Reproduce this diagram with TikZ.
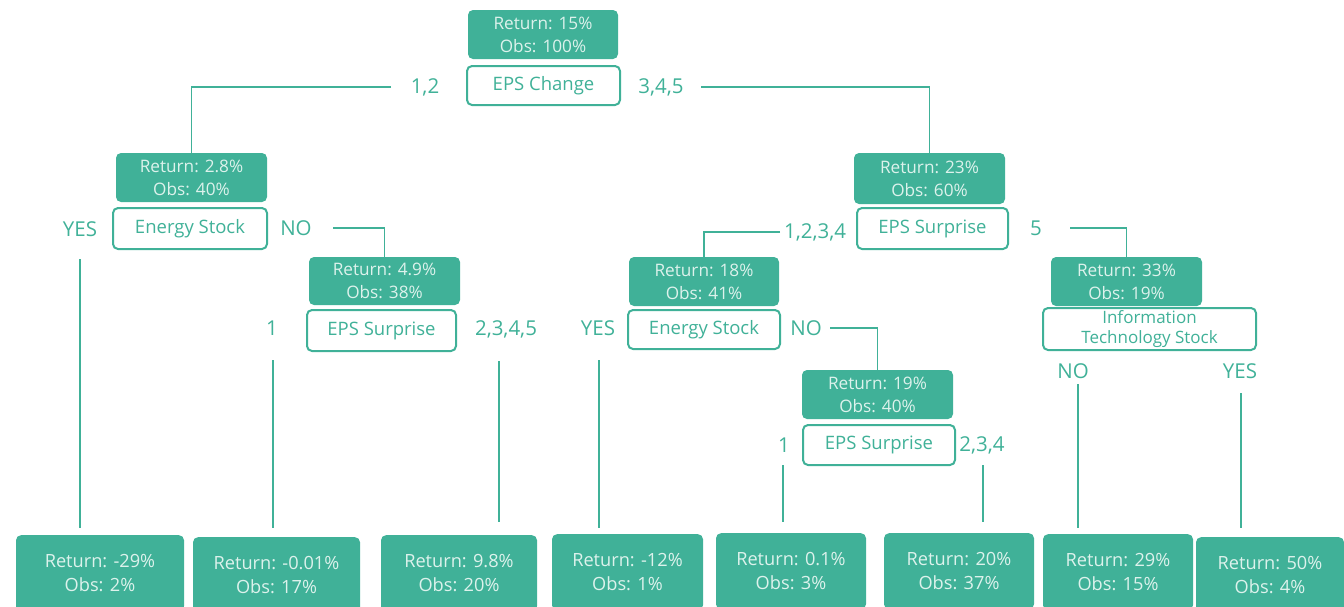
\documentclass[tikz,border=0pt]{standalone}
\usepackage{fontspec}
\setmainfont{Open Sans}
\usetikzlibrary{positioning}
\definecolor{teal}{HTML}{40B198}
\definecolor{pale}{HTML}{DDF2EC}
\tikzset{
    stat/.style={fill=teal,rounded corners=5pt,text=pale,align=center,
        font=\fontsize{17.2}{23}\selectfont,inner sep=0pt},
    test/.style={draw=teal,line width=2pt,fill=white,rounded corners=5pt,
        text=teal,align=center,font=\fontsize{18.5}{20}\selectfont,inner sep=0pt},
    leaf/.style={stat,anchor=north,minimum height=76pt,
        font=\fontsize{18.2}{24}\selectfont},
    lbl/.style={text=teal,font=\fontsize{20.5}{20}\selectfont,inner sep=0pt},
    link/.style={draw=teal,line width=1.3pt}
}
\begin{document}
\begin{tikzpicture}[x=1pt,y=-1pt]
    \clip (0,0) rectangle (1344,606);
    \useasboundingbox (0,0) rectangle (1344,606);

    % root
    \node[stat,minimum width=150pt,minimum height=49pt] (s0) at (543,34.5)
        {Return: 15\%\\Obs: 100\%};
    \node[test,minimum width=153pt,minimum height=39pt] (t0) at (543.5,85.5)
        {EPS Change};
    \node[lbl] (l12) at (425,87) {1,2};
    \node[lbl] (l345) at (661,87) {3,4,5};

    % left branch
    \node[stat,minimum width=151pt,minimum height=49pt] (s1) at (191.5,177.5)
        {Return: 2.8\%\\Obs: 40\%};
    \node[test,minimum width=154pt,minimum height=41pt] (t1) at (190,228.5)
        {Energy Stock};
    \node[lbl] (yes1) at (80,229) {YES};
    \node[lbl] (no1) at (296,228) {NO};

    \node[stat,minimum width=151pt,minimum height=48pt] (s3) at (384.5,281)
        {Return: 4.9\%\\Obs: 38\%};
    \node[test,minimum width=149pt,minimum height=41pt] (t3) at (381.5,330.5)
        {EPS Surprise};
    \node[lbl] (one3) at (272,328) {1};
    \node[lbl] (rest3) at (506,329) {2,3,4,5};

    % right branch
    \node[stat,minimum width=151pt,minimum height=51pt] (s2) at (929.5,178.5)
        {Return: 23\%\\Obs: 60\%};
    \node[test,minimum width=151pt,minimum height=41pt] (t2) at (932.5,228.5)
        {EPS Surprise};
    \node[lbl] (l1234) at (815,232) {1,2,3,4};
    \node[lbl] (five) at (1036,228) {5};

    \node[stat,minimum width=150pt,minimum height=49pt] (s4) at (704,281.5)
        {Return: 18\%\\Obs: 41\%};
    \node[test,minimum width=152pt,minimum height=39pt] (t4) at (704,329.5)
        {Energy Stock};
    \node[lbl] (yes4) at (598,328) {YES};
    \node[lbl] (no4) at (806,328) {NO};

    \node[stat,minimum width=151pt,minimum height=49pt] (s6) at (877.5,394.5)
        {Return: 19\%\\Obs: 40\%};
    \node[test,minimum width=152pt,minimum height=40pt] (t6) at (879,445)
        {EPS Surprise};
    \node[lbl] (one6) at (784,445) {1};
    \node[lbl] (rest6) at (982,445) {2,3,4};

    \node[stat,minimum width=151pt,minimum height=49pt] (s5) at (1126.5,281.5)
        {Return: 33\%\\Obs: 19\%};
    \node[test,minimum width=213pt,minimum height=42pt,
        font=\fontsize{17}{19.5}\selectfont] (t5) at (1149.5,329)
        {Information\\Technology Stock};
    \node[lbl] (no5) at (1073,371) {NO};
    \node[lbl] (yes5) at (1240,371) {YES};

    % leaves
    \node[leaf,minimum width=168pt] (r1) at (100,535)
        {Return: -29\%\\Obs: 2\%};
    \node[leaf,minimum width=167pt] (r2) at (276.5,537)
        {Return: -0.01\%\\Obs: 17\%};
    \node[leaf,minimum width=156pt] (r3) at (459,535)
        {Return: 9.8\%\\Obs: 20\%};
    \node[leaf,minimum width=151pt] (r4) at (627.5,534)
        {Return: -12\%\\Obs: 1\%};
    \node[leaf,minimum width=150pt] (r5) at (791,533)
        {Return: 0.1\%\\Obs: 3\%};
    \node[leaf,minimum width=150pt] (r6) at (959,533)
        {Return: 20\%\\Obs: 37\%};
    \node[leaf,minimum width=150pt] (r7) at (1118,534)
        {Return: 29\%\\Obs: 15\%};
    \node[leaf,minimum width=148pt] (r8) at (1270,537)
        {Return: 50\%\\Obs: 4\%};

    % splits into inner nodes
    \draw[link,shorten <=34pt] (l12.center) -| (s1.north);
    \draw[link,shorten <=40pt] (l345.center) -| (s2.north);
    \draw[link,shorten <=37pt] (no1.center) -| (s3.north);
    \draw[link,shorten <=35pt] (l1234.center) -| (s4.north);
    \draw[link,shorten <=34pt] (five.center) -| (s5.north);
    \draw[link,shorten <=24pt] (no4.center) -| (s6.north);

    % drops to the leaves
    \draw[link,shorten <=30pt,shorten >=7pt] (yes1.center) -- (yes1 |- r1.north);
    \draw[link,shorten <=32pt,shorten >=9pt] ([xshift=1pt]one3.center) -- ([xshift=1pt]one3 |- r2.north);
    \draw[link,shorten <=32pt,shorten >=13pt] ([xshift=-7pt]rest3.center) -- ([xshift=-7pt]rest3 |- r3.north);
    \draw[link,shorten <=32pt,shorten >=6pt] ([xshift=1pt]yes4.center) -- ([xshift=1pt]yes4 |- r4.north);
    \draw[link,shorten <=20pt,shorten >=11pt] ([xshift=-1pt]one6.center) -- ([xshift=-1pt]one6 |- r5.north);
    \draw[link,shorten <=20pt,shorten >=11pt] ([xshift=1pt]rest6.center) -- ([xshift=1pt]rest6 |- r6.north);
    \draw[link,shorten <=13pt,shorten >=6pt] ([xshift=5pt]no5.center) -- ([xshift=5pt]no5 |- r7.north);
    \draw[link,shorten <=22pt,shorten >=9pt] ([xshift=1pt]yes5.center) -- ([xshift=1pt]yes5 |- r8.north);
\end{tikzpicture}
\end{document}
